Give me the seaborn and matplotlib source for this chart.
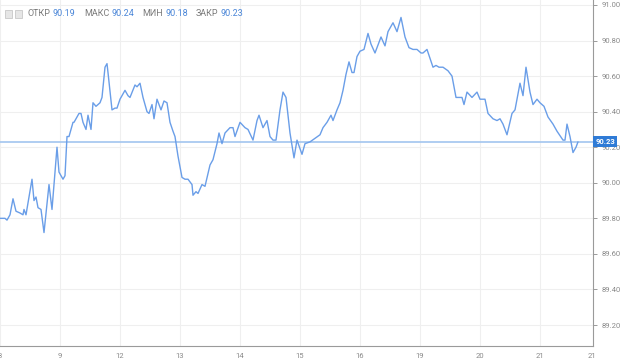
import matplotlib
matplotlib.use("Agg")
import matplotlib.pyplot as plt
import matplotlib.transforms as mtransforms
from matplotlib.patches import Rectangle
import seaborn as sns
import pandas as pd

# ---- data (hours since start of window, price) ----
hours = [0, 2, 2.8, 4, 5.2, 6.4, 8, 9.2, 9.6, 10.4, 12.8, 13.6, 14.4, 15.2, 16.4, 17.6,
         19.6, 20.8, 22.8, 23.6, 25.2, 26, 26.8, 27.6, 29.2, 29.6, 30.8, 31.6, 32.4, 33.2,
         34.4, 35.2, 36.4, 37.2, 38.4, 40, 40.8, 42, 42.8, 43.2, 44.8, 46, 46.8, 48, 50,
         51.2, 52, 54, 54.8, 56, 57.2, 58.8, 59.6, 60.8, 61.6, 62.8, 64.4, 65.6, 66.8, 68,
         69.2, 70, 71.2, 72.8, 74, 75.2, 76.8, 77.2, 78.4, 79.2, 80.8, 82, 84, 85.2, 86.8,
         87.6, 88.8, 90, 92, 93.2, 94, 96, 98, 99.2, 101.2, 102.8, 103.6, 105.2, 106.8, 108,
         109.2, 110.4, 112, 113.2, 114.4, 116, 117.6, 118.8, 120.8, 122, 124, 126, 128,
         129.2, 130.8, 132.4, 133.2, 134.8, 136, 137.2, 138.4, 139.6, 140.8, 141.6, 142.8,
         144, 145.6, 147.2, 148.4, 150, 152.4, 154, 155.2, 157.2, 158.8, 160.4, 162, 163.6,
         165.2, 166.8, 168.4, 169.2, 170.8, 172, 173.2, 174.4, 175.6, 177.2, 179.2, 180.8,
         182.4, 184.8, 185.6, 186.8, 188.8, 190.8, 192, 194, 195.2, 197.2, 198.8, 200,
         201.2, 202.8, 204.8, 206, 208, 209.2, 210.4, 212, 213.2, 214.8, 216, 217.6, 219.2,
         221.2, 222.8, 225.2, 226, 226.8, 228, 229.2, 230.4, 231.2]
price = [89.80, 89.80, 89.79, 89.82, 89.91, 89.84, 89.83, 89.82, 89.85, 89.82, 90.02, 89.90,
         89.92, 89.86, 89.85, 89.72, 89.99, 89.85, 90.20, 90.06, 90.02, 90.04, 90.26, 90.26,
         90.34, 90.34, 90.37, 90.39, 90.39, 90.34, 90.30, 90.38, 90.30, 90.45, 90.43, 90.45,
         90.48, 90.65, 90.67, 90.62, 90.41, 90.42, 90.42, 90.47, 90.52, 90.49, 90.48, 90.55,
         90.54, 90.56, 90.48, 90.40, 90.39, 90.44, 90.36, 90.47, 90.41, 90.46, 90.45, 90.34,
         90.29, 90.26, 90.15, 90.03, 90.02, 90.02, 89.99, 89.93, 89.95, 89.94, 89.99, 89.98,
         90.10, 90.13, 90.22, 90.28, 90.22, 90.28, 90.31, 90.31, 90.26, 90.34, 90.31, 90.30,
         90.24, 90.35, 90.38, 90.31, 90.35, 90.26, 90.24, 90.24, 90.41, 90.51, 90.48, 90.28,
         90.14, 90.24, 90.16, 90.22, 90.23, 90.25, 90.27, 90.31, 90.34, 90.38, 90.35, 90.41,
         90.45, 90.52, 90.61, 90.68, 90.62, 90.62, 90.71, 90.74, 90.75, 90.84, 90.78, 90.73,
         90.82, 90.77, 90.85, 90.90, 90.85, 90.93, 90.82, 90.76, 90.75, 90.75, 90.73, 90.73,
         90.75, 90.70, 90.65, 90.66, 90.65, 90.65, 90.63, 90.60, 90.48, 90.48, 90.44, 90.51,
         90.48, 90.51, 90.47, 90.47, 90.39, 90.36, 90.35, 90.36, 90.33, 90.27, 90.39, 90.41,
         90.56, 90.49, 90.65, 90.51, 90.44, 90.47, 90.45, 90.43, 90.37, 90.33, 90.29, 90.24,
         90.24, 90.33, 90.26, 90.17, 90.20, 90.23]

x_tick_pos = [0, 24, 48, 72, 96, 120, 144, 168, 192, 216, 236.8]
x_tick_labels = ["8", "9", "12", "13", "14", "15", "16", "19", "20", "21", "21"]
y_ticks = [89.20, 89.40, 89.60, 89.80, 90.00, 90.20, 90.40, 90.60, 90.80, 91.00]

header_labels = ["ОТКР", "МАКС", "МИН", "ЗАКР"]
header_values = ["90.19", "90.24", "90.18", "90.23"]
last_price = 90.23

# ---- style ----
sns.set_style("white")
plt.rcParams["font.family"] = ["Roboto", "DejaVu Sans"]

LINE = "#6a9ee8"
GRID = "#efefef"
SPINE = "#9a9a9a"
TICKTXT = "#8a8a8a"

fig = plt.figure(figsize=(6.2, 3.6), dpi=100)
ax = fig.add_axes([0.0, 1 - 346 / 360, 593 / 620, 346 / 360])

df = pd.DataFrame({"hour": hours, "price": price})
sns.lineplot(data=df, x="hour", y="price", ax=ax, color=LINE, linewidth=1.0,
             estimator=None, zorder=3)

ax.set_xlim(0, 237.2)
ax.set_ylim(89.082, 91.028)

ax.set_xticks(x_tick_pos)
ax.set_xticklabels(x_tick_labels)
ax.set_yticks(y_ticks)
ax.set_yticklabels([f"{v:.2f}" for v in y_ticks])
ax.yaxis.tick_right()
ax.set_xlabel("")
ax.set_ylabel("")

ax.tick_params(axis="both", labelsize=5.5, colors=SPINE, labelcolor=TICKTXT,
               length=3, width=0.7, pad=2)
ax.tick_params(axis="y", pad=3)

for g in x_tick_pos[:-1]:
    ax.axvline(g, color=GRID, lw=0.8, zorder=0)
for g in y_ticks:
    ax.axhline(g, color=GRID, lw=0.8, zorder=0)

for s in ["top", "left"]:
    ax.spines[s].set_visible(False)
for s in ["bottom", "right"]:
    ax.spines[s].set_color(SPINE)
    ax.spines[s].set_linewidth(0.8)

# current price line and label
ax.axhline(last_price, color="#a9c9f0", lw=1.3, zorder=2)
trans = mtransforms.blended_transform_factory(ax.transAxes, ax.transData)
ax.text(1.004, last_price, f"{last_price:.2f}", transform=trans, ha="left", va="center",
        fontsize=5.5, color="white", fontweight="bold", zorder=5, clip_on=False,
        bbox=dict(boxstyle="square,pad=0.25", fc="#2f7bd6", ec="none"))

# header icons
for x0 in (5, 15):
    fig.patches.append(Rectangle((x0 / 620, 1 - 18 / 360), 7 / 620, 8 / 360,
                                 transform=fig.transFigure, fc="#e6e6e6", ec="#c8c8c8",
                                 lw=0.6))

# header: label/value pairs laid out one after another
anchor = None
for i, (lab, val) in enumerate(zip(header_labels, header_values)):
    if anchor is None:
        lab_txt = fig.text(28 / 620, 1 - 14 / 360, lab, fontsize=6.5,
                           color="#7a7a7a", va="center", ha="left")
    else:
        lab_txt = ax.annotate(lab, xy=(1, 0.5), xycoords=anchor, xytext=(6, 0),
                              textcoords="offset points", fontsize=6.5,
                              color="#7a7a7a", va="center", ha="left",
                              annotation_clip=False)
    anchor = ax.annotate(val, xy=(1, 0.5), xycoords=lab_txt, xytext=(1.5, 0),
                         textcoords="offset points", fontsize=6.5, color="#4a86d8",
                         va="center", ha="left", annotation_clip=False)

fig.savefig("out.png", dpi=100)
